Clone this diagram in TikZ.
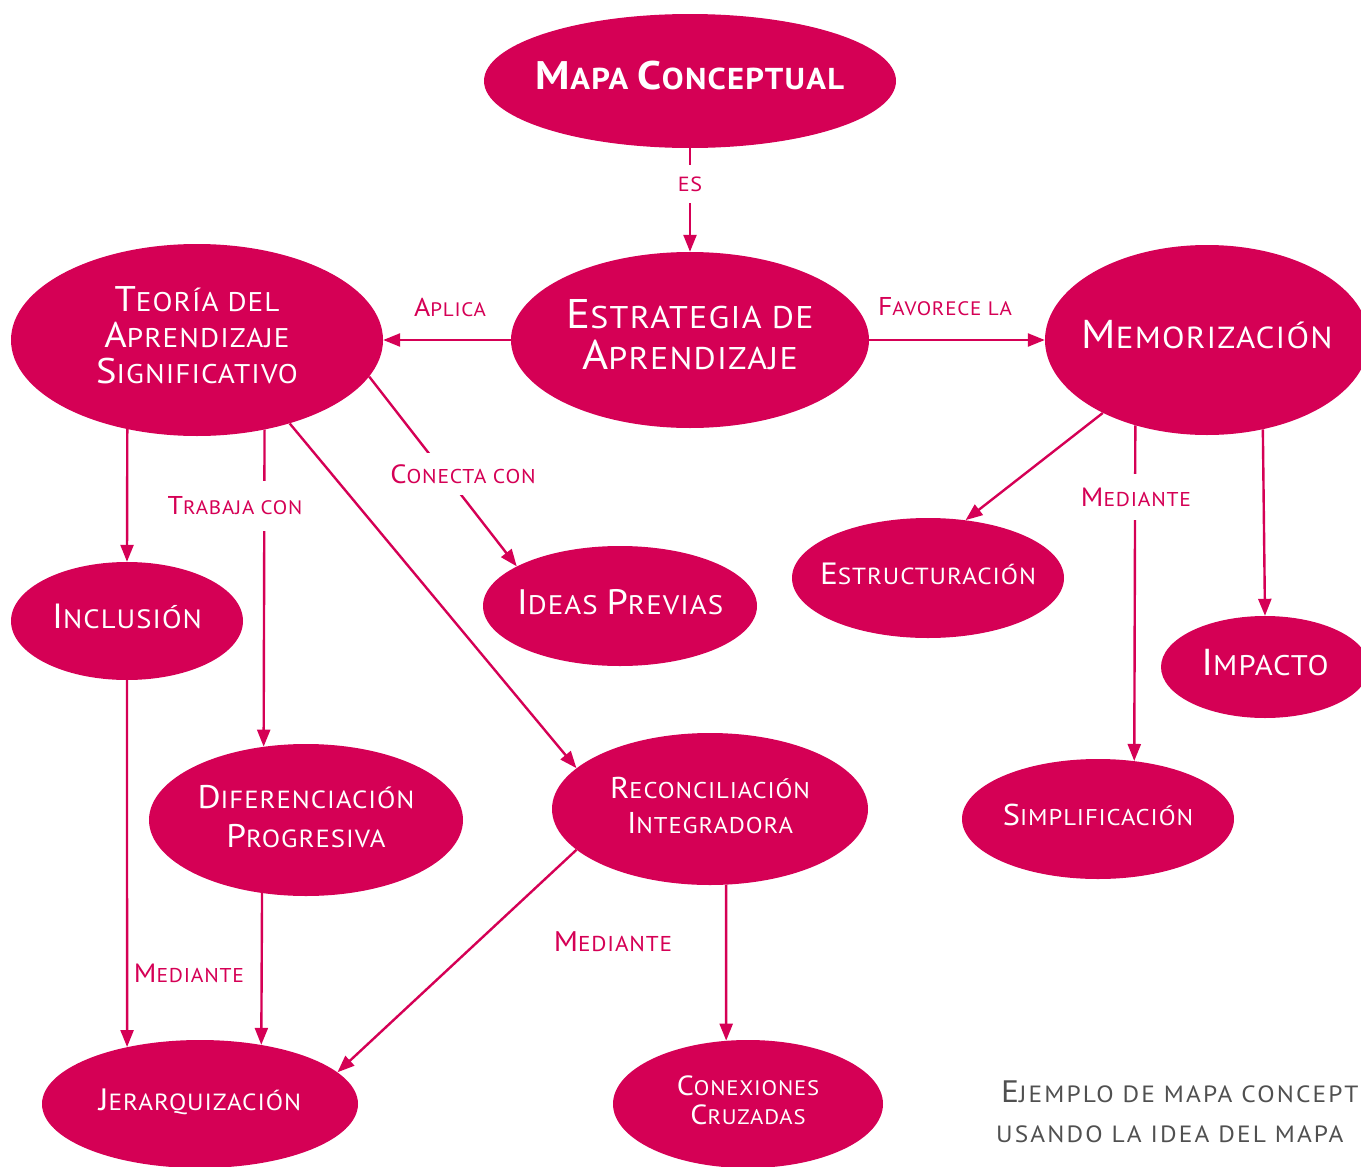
\documentclass[tikz,border=0pt]{standalone}
\usepackage{fontspec}
\setmainfont[FakeStretch=1.08,LetterSpace=4]{PT Sans}
\usepackage{graphicx}
\usetikzlibrary{shapes.geometric,arrows.meta}
\definecolor{pk}{RGB}{213,0,85}
\definecolor{capg}{RGB}{80,80,80}
\newcommand\Cp[1]{\scalebox{1.32}{#1}}
\newcommand\Zt[1]{\makebox[0pt]{\begin{tabular}{@{}c@{}}#1\end{tabular}}}
\newcommand\fs[2]{\fontsize{#1}{#2}\selectfont}
\begin{document}
\begin{tikzpicture}[x=1pt,y=-1pt,
  ell/.style={ellipse, fill=pk, inner sep=0pt, text=white},
  arr/.style={draw=pk, line width=2.4pt, -{Triangle[length=17pt,width=13pt]}},
  lbl/.style={text=pk, inner xsep=4pt, inner ysep=0pt},
  lblw/.style={lbl, fill=white},
  capt/.style={text=capg, inner sep=0pt, anchor=base west}]
\clip (0,0) rectangle (1361,1167);
% concept nodes
\node[ell, minimum width=412pt, minimum height=134pt, font=\fs{30.2}{39}\bfseries] (map) at (690,81) {\Zt{\Cp{M}APA \Cp{C}ONCEPTUAL}};
\node[ell, minimum width=358pt, minimum height=176pt, font=\fs{31.4}{39}] (est) at (690,340) {\Zt{\Cp{E}STRATEGIA DE\\\Cp{A}PRENDIZAJE}};
\node[ell, minimum width=372pt, minimum height=192pt, font=\fs{27}{34.5}] (teo) at (197,340) {\Zt{\Cp{T}EORÍA DEL\\\Cp{A}PRENDIZAJE\\\Cp{S}IGNIFICATIVO}};
\node[ell, minimum width=324pt, minimum height=190pt, font=\fs{30.5}{40}] (mem) at (1207,340) {\Zt{\Cp{M}EMORIZACIÓN}};
\node[ell, minimum width=232pt, minimum height=118pt, font=\fs{26.5}{34}] (inc) at (127,621) {\Zt{\Cp{I}NCLUSIÓN}};
\node[ell, minimum width=314pt, minimum height=152pt, font=\fs{24.8}{39}] (dif) at (306,820) {\Zt{\Cp{D}IFERENCIACIÓN\\\Cp{P}ROGRESIVA}};
\node[ell, minimum width=274pt, minimum height=120pt, font=\fs{26.8}{30}] (ide) at (620,606) {\Zt{\Cp{I}DEAS \Cp{P}REVIAS}};
\node[ell, minimum width=316pt, minimum height=152pt, font=\fs{22.8}{35}] (rec) at (710,809) {\Zt{\Cp{R}ECONCILIACIÓN\\\Cp{I}NTEGRADORA}};
\node[ell, minimum width=316pt, minimum height=128pt, font=\fs{23.4}{30}] (jer) at (200,1104) {\Zt{\Cp{J}ERARQUIZACIÓN}};
\node[ell, minimum width=270pt, minimum height=128pt, font=\fs{21}{29}] (con) at (748,1104) {\Zt{\Cp{C}ONEXIONES\\\Cp{C}RUZADAS}};
\node[ell, minimum width=272pt, minimum height=120pt, font=\fs{23.3}{30}] (estr) at (928,578) {\Zt{\Cp{E}STRUCTURACIÓN}};
\node[ell, minimum width=208pt, minimum height=102pt, font=\fs{28.4}{34}] (imp) at (1265,667) {\Zt{\Cp{I}MPACTO}};
\node[ell, minimum width=272pt, minimum height=120pt, font=\fs{22.8}{30}] (simp) at (1098,819) {\Zt{\Cp{S}IMPLIFICACIÓN}};
% connectors
\draw[arr] (map.south) -- (est.north);
\draw[arr] (est.west) -- (teo.east);
\draw[arr] (est.east) -- (mem.west);
\draw[arr] (teo.-128.2) -- (inc.north);
\draw[arr] (teo.-53.6) -- (dif.120.5);
\draw[arr] (teo.-12.6) -- (ide.159);
\draw[arr] (teo.-42) -- (rec.163.2);
\draw[arr] (inc.south) -- (jer.142.1);
\draw[arr] (dif.-121.7) -- (jer.44);
\draw[arr] (rec.197.8) -- (jer.13.3);
\draw[arr] (rec.-78) -- (con.109.2);
\draw[arr] (mem.-145.8) -- (estr.57.2);
\draw[arr] (mem.-130.7) -- (simp.58.1);
\draw[arr] (mem.-58.4) -- (imp.north);
% connector labels
\node[lblw, inner ysep=12pt, font=\fs{20.5}{20}] (les) at (690,184) {ES};
\node[lbl, font=\fs{19.5}{20}] (lapl) at (450,307) {\Cp{A}PLICA};
\node[lbl, font=\fs{19.5}{20}] (lfav) at (945,307) {\Cp{F}AVORECE LA};
\node[lblw, inner ysep=16pt, font=\fs{19.5}{20}] (ltra) at (235,506) {\Cp{T}RABAJA CON};
\node[lblw, inner ysep=11pt, font=\fs{20}{20}] (lcnc) at (463,474) {\Cp{C}ONECTA CON};
\node[lblw, inner ysep=14pt, font=\fs{20}{20}] (lmed1) at (1136,497) {\Cp{M}EDIANTE};
\node[lbl, font=\fs{20}{20}] (lmed2) at (189,973) {\Cp{M}EDIANTE};
\node[lbl, font=\fs{21.5}{20}] (lmed3) at (613,942) {\Cp{M}EDIANTE};
% caption (cut off at the right edge, as in the reference)
\node[capt, font=\fs{23.5}{26}\addfontfeature{LetterSpace=9}] (cap1) at (1001,1102) {\Cp{E}JEMPLO DE MAPA CONCEPTUAL};
\node[capt, font=\fs{23.5}{26}\addfontfeature{LetterSpace=9}] (cap2) at (996,1142) {USANDO LA IDEA DEL MAPA};
\end{tikzpicture}
\end{document}
